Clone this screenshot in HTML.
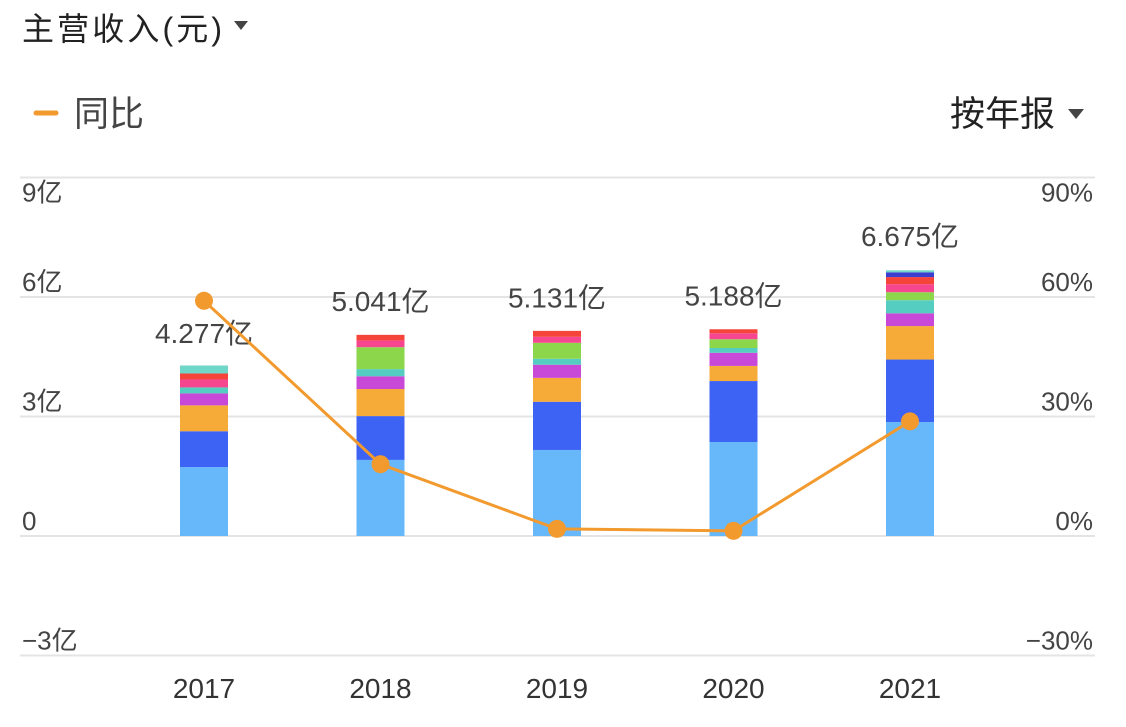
<!DOCTYPE html>
<html><head><meta charset="utf-8"><style>
body{margin:0;background:#fff;width:1126px;height:722px;overflow:hidden;font-family:"Liberation Sans","Noto Sans CJK SC",sans-serif}
</style></head><body>
<svg id="c" width="1126" height="722" xmlns="http://www.w3.org/2000/svg" font-family="Liberation Sans, Noto Sans CJK SC, sans-serif">
<text x="22" y="40" font-size="32" fill="#222" textLength="200">主营收入(元)</text>
<path d="M234 21 L248 21 L241 30 Z" fill="#444"/>
<line x1="36" y1="113" x2="56" y2="113" stroke="#f29a2e" stroke-width="5" stroke-linecap="round"/>
<text x="74" y="126" font-size="35" fill="#444">同比</text>
<text x="950" y="126" font-size="35" fill="#222">按年报</text>
<path d="M1068 109 L1084 109 L1076 119 Z" fill="#444"/>
<g id="g"></g>
</svg>
<script>
const years=['2017','2018','2019','2020','2021'];
const totals=[4.277,5.041,5.131,5.188,6.675];
const yoy=[59.3,18.1,1.8,1.3,28.9];
const s1=[1.73,1.91,2.16,2.36,2.86];
const s2=[0.9,1.1,1.21,1.53,1.57];
const s3=[0.65,0.68,0.6,0.38,0.84];
const s4=[0.3,0.32,0.33,0.33,0.32];
const s5=[0.15,0.18,0.15,0.12,0.33];
const s6=[0,0.55,0.4,0.22,0.2];
const s7=[0.2,0.17,0.15,0.15,0.2];
const s8=[0.15,0.14,0.15,0.1,0.18];
const s9=[0,0,0,0,0.12];
const s10=[0.2,0,0,0,0.05];
const leftTicks=['−3亿','0','3亿','6亿','9亿'];
const leftVals=[-3,0,3,6,9];
const rightTicks=['−30%','0%','30%','60%','90%'];
const series=[s1,s2,s3,s4,s5,s6,s7,s8,s9,s10];
const colors=['#66b8fb','#3d63f5','#f6aa37','#c848d8','#55cdc0','#8bd64a','#f5468f','#f5443a','#3a3fd0','#6fd6c8'];
const NS='http://www.w3.org/2000/svg';
const g=document.getElementById('g');
const y=v=>536-v*(536-297)/6;
const yr=p=>536-p*(536-417)/30;
const x=i=>204+i*176.5;
const labY=v=>v>=9?y(v)+24:y(v)-6;
function mk(t,a){const e=document.createElementNS(NS,t);for(const k in a)e.setAttribute(k,a[k]);g.appendChild(e);return e;}
leftVals.forEach((v,i)=>{
 const l=mk('line',{x1:20,x2:1095,y1:y(v),y2:y(v),stroke:'#e4e4e4','stroke-width':2});
 
 
 const t=mk('text',{x:22,y:labY(v),'font-size':26,fill:'#444'});t.textContent=leftTicks[i];
 
 
 const r=mk('text',{x:1093,y:labY(v),'font-size':26,fill:'#444','text-anchor':'end'});r.textContent=rightTicks[i];
 
 
});
years.forEach((yy,i)=>{
 let base=0;
 series.forEach((s,k)=>{
  if(s[i]<=0)return;
  const r=mk('rect',{x:x(i)-24,width:48,y:y(base+s[i]),height:y(base)-y(base+s[i]),fill:colors[k]});
  
  
  base+=s[i];
 });
 const t=mk('text',{x:x(i),y:i==0?343:y(totals[i])-24,'font-size':28,fill:'#444','text-anchor':'middle'});
 t.textContent=totals[i].toFixed(3)+'亿';
 
 
 const xl=mk('text',{x:x(i),y:698,'font-size':28,fill:'#333','text-anchor':'middle'});xl.textContent=yy;
 
 
});
const pl=mk('polyline',{points:yoy.map((p,i)=>x(i)+','+yr(p)).join(' '),fill:'none',stroke:'#f29a2e','stroke-width':3});


yoy.forEach((p,i)=>{
 const c=mk('circle',{cx:x(i),cy:yr(p),r:9,fill:'#f29a2e'});
 
 
});
</script>
</body></html>
